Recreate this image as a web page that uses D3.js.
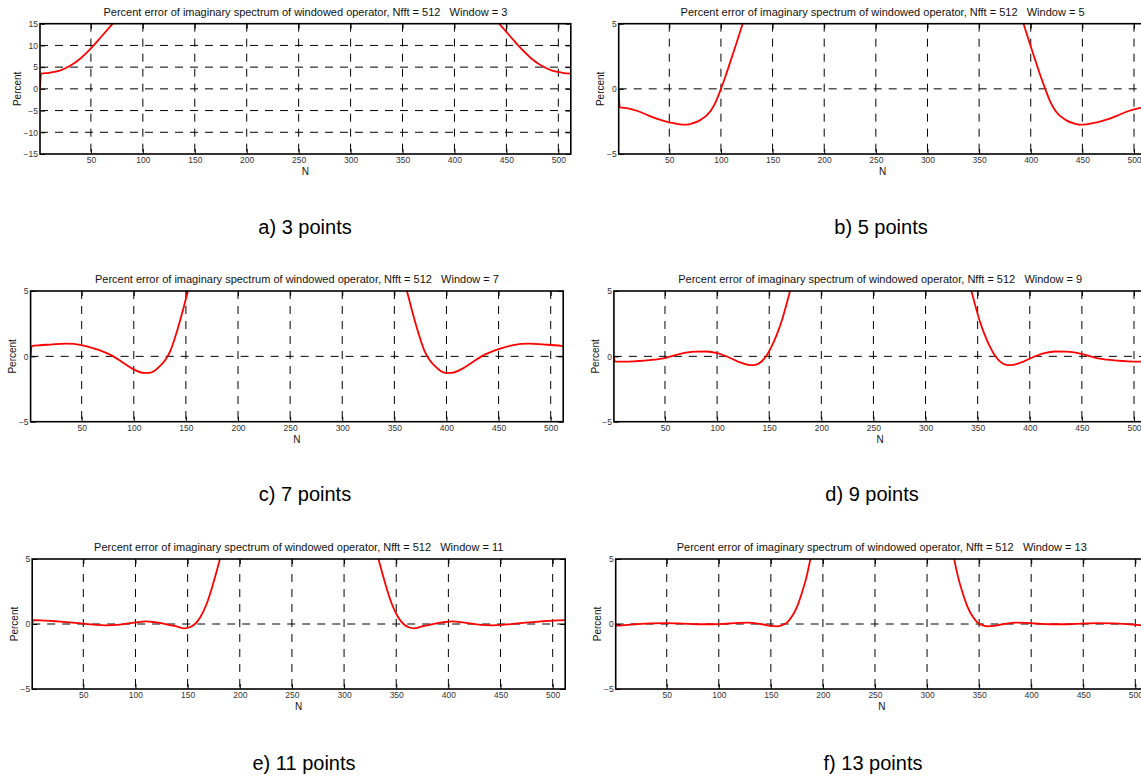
<!DOCTYPE html>
<html>
<head>
<meta charset="utf-8">
<script src="https://cdn.jsdelivr.net/npm/d3@7"></script>
<style>
  body { margin: 0; background: #fff; }
  svg { display: block; font-family: "Liberation Sans", Arial, sans-serif; }
  .tick text { fill: #333; font-size: 8.5px; }
</style>
</head>
<body>
<div class="svg-container"></div>
<script>
// window sizes and captions
const windows = [3, 5, 7, 9, 11, 13];
const captions = ['a) 3 points', 'b) 5 points', 'c) 7 points', 'd) 9 points', 'e) 11 points', 'f) 13 points'];
const xTicks = [50, 100, 150, 200, 250, 300, 350, 400, 450, 500];
const yTicksW3 = [-15, -10, -5, 0, 5, 10, 15];
const yTicksOther = [-5, 0, 5];

// curve values (left branch / right branch)
const nW3a = [1, 2, 10, 20, 30, 40, 50, 60, 71];
const errW3a = [0, 3.5, 3.7, 4.2, 5.3, 7.0, 9.3, 12.0, 15];
const nW3b = [443, 454, 464, 474, 484, 494, 504, 512];
const errW3b = [15, 12.0, 9.3, 7.0, 5.3, 4.2, 3.7, 3.5];

const nW5a = [1, 2, 10, 20, 30, 40, 50, 60, 65, 70, 80, 90, 95, 100, 105, 110, 115, 121];
const errW5a = [0, -1.42, -1.5, -1.72, -2.05, -2.35, -2.58, -2.72, -2.75, -2.7, -2.4, -1.7, -1.0, 0.0, 1.1, 2.3, 3.5, 5];
const nW5b = [393, 399, 404, 409, 414, 419, 424, 434, 444, 449, 454, 464, 474, 484, 494, 504, 512];
const errW5b = [5, 3.5, 2.3, 1.1, 0.0, -1.0, -1.7, -2.4, -2.7, -2.75, -2.72, -2.58, -2.35, -2.05, -1.72, -1.5, -1.42];

const nW7a = [1, 2, 10, 20, 35, 50, 60, 70, 80, 90, 100, 110, 115, 120, 125, 130, 135, 140, 145, 150, 152];
const errW7a = [0, 0.78, 0.85, 0.9, 0.97, 0.86, 0.65, 0.38, 0.02, -0.5, -1.0, -1.27, -1.27, -1.1, -0.75, -0.3, 0.4, 1.55, 2.9, 4.4, 5];
const nW7b = [362, 364, 369, 374, 379, 384, 389, 394, 399, 404, 414, 424, 434, 444, 454, 464, 479, 494, 504, 512];
const errW7b = [5, 4.4, 2.9, 1.55, 0.4, -0.3, -0.75, -1.1, -1.27, -1.27, -1.0, -0.5, 0.02, 0.38, 0.65, 0.86, 0.97, 0.9, 0.85, 0.78];

const nW9a = [1, 2, 10, 20, 30, 40, 50, 60, 70, 80, 90, 100, 110, 120, 130, 135, 140, 147, 152, 157, 162, 167, 170];
const errW9a = [0, -0.4, -0.4, -0.38, -0.33, -0.25, -0.14, 0.1, 0.28, 0.36, 0.37, 0.25, -0.03, -0.4, -0.65, -0.67, -0.55, 0, 0.7, 1.6, 2.7, 4.1, 5];
const nW9b = [344, 347, 352, 357, 362, 367, 374, 379, 384, 394, 404, 414, 424, 434, 444, 454, 464, 474, 484, 494, 504, 512];
const errW9b = [5, 4.1, 2.7, 1.6, 0.7, 0, -0.55, -0.67, -0.65, -0.4, -0.03, 0.25, 0.37, 0.36, 0.28, 0.1, -0.14, -0.25, -0.33, -0.38, -0.4, -0.4];

const nW11a = [1, 2, 10, 25, 40, 50, 60, 72, 85, 100, 110, 120, 130, 140, 147, 152, 157, 162, 168, 173, 177, 181];
const errW11a = [0, 0.3, 0.28, 0.2, 0.1, 0.03, -0.05, -0.1, -0.05, 0.12, 0.2, 0.12, -0.02, -0.2, -0.33, -0.25, 0, 0.5, 1.5, 2.7, 3.8, 5];
const nW11b = [333, 337, 341, 346, 352, 357, 362, 367, 374, 384, 394, 404, 414, 429, 442, 454, 464, 474, 489, 504, 512];
const errW11b = [5, 3.8, 2.7, 1.5, 0.5, 0, -0.25, -0.33, -0.2, -0.02, 0.12, 0.2, 0.12, -0.05, -0.1, -0.05, 0.03, 0.1, 0.2, 0.28, 0.3];

const nW13a = [1, 2, 10, 20, 35, 50, 65, 80, 95, 110, 128, 140, 150, 156, 162, 166, 170, 175, 180, 184, 188];
const errW13a = [0, -0.13, -0.08, -0.02, 0.05, 0.07, 0.03, -0.02, -0.02, 0.04, 0.1, 0.0, -0.15, -0.18, -0.05, 0.15, 0.55, 1.3, 2.45, 3.55, 5];
const nW13b = [326, 330, 334, 339, 344, 348, 352, 358, 364, 374, 386, 404, 419, 434, 449, 464, 479, 494, 504, 512];
const errW13b = [5, 3.55, 2.45, 1.3, 0.55, 0.15, -0.05, -0.18, -0.15, 0.0, 0.1, 0.04, -0.02, -0.02, 0.03, 0.07, 0.05, -0.02, -0.08, -0.13];

const branches = [
  [[nW3a, errW3a], [nW3b, errW3b]],
  [[nW5a, errW5a], [nW5b, errW5b]],
  [[nW7a, errW7a], [nW7b, errW7b]],
  [[nW9a, errW9a], [nW9b, errW9b]],
  [[nW11a, errW11a], [nW11b, errW11b]],
  [[nW13a, errW13a], [nW13b, errW13b]]
];

// panel boxes (pixel layout)
const boxLeft = [40, 618.7, 30.6, 613.9, 32.2, 615.7];
const boxRight = [570.8, 1146.4, 563.2, 1146.5, 565.2, 1147.8];
const boxTop = [23.7, 23.7, 291, 291, 559, 559];
const boxBottom = [154, 154, 421.7, 421.7, 689, 689];
const captionX = [305, 881, 305, 872, 304, 873];
const captionY = [234, 234, 501, 501, 770, 770];

const width = 1141;
const height = 776;

const svg = d3.select('.svg-container')
  .append('svg')
  .attr('width', width)
  .attr('height', height);

svg.append('rect').attr('width', width).attr('height', height).attr('fill', '#fff');

windows.forEach((w, i) => {
  const L = boxLeft[i], R = boxRight[i], T = boxTop[i], B = boxBottom[i];
  const yTicks = w === 3 ? yTicksW3 : yTicksOther;
  const yDom = w === 3 ? [-15, 15] : [-5, 5];

  const x = d3.scaleLinear().domain([1, 512]).range([L, R]);
  const y = d3.scaleLinear().domain(yDom).range([B, T]);

  const g = svg.append('g');

  g.append('clipPath').attr('id', 'clip' + i)
    .append('rect').attr('x', L).attr('y', T).attr('width', R - L).attr('height', B - T);

  // grid
  g.selectAll('.vgrid')
    .data(xTicks)
    .enter()
    .append('line')
    .attr('x1', d => x(d)).attr('x2', d => x(d))
    .attr('y1', T).attr('y2', B)
    .attr('stroke', '#000')
    .attr('stroke-width', 1)
    .attr('stroke-dasharray', '8,7');

  g.selectAll('.hgrid')
    .data(yTicks.slice(1, -1))
    .enter()
    .append('line')
    .attr('x1', L).attr('x2', R)
    .attr('y1', d => y(d)).attr('y2', d => y(d))
    .attr('stroke', '#000')
    .attr('stroke-width', 1)
    .attr('stroke-dasharray', '8,7');

  // axes with inward ticks
  const xAxis = g.append('g').attr('transform', `translate(0,${B})`)
    .call(d3.axisBottom(x).tickValues(xTicks).tickSizeInner(-5).tickSizeOuter(0).tickPadding(3));
  g.append('g').attr('transform', `translate(0,${T})`)
    .call(d3.axisTop(x).tickValues(xTicks).tickSizeInner(-5).tickSizeOuter(0).tickFormat(''));
  const yAxis = g.append('g').attr('transform', `translate(${L},0)`)
    .call(d3.axisLeft(y).tickValues(yTicks).tickSizeInner(-5).tickSizeOuter(0).tickPadding(2));
  g.append('g').attr('transform', `translate(${R},0)`)
    .call(d3.axisRight(y).tickValues(yTicks).tickSizeInner(-5).tickSizeOuter(0).tickFormat(''));

  g.selectAll('.domain').remove();
  g.selectAll('.tick line').attr('stroke', '#000');
  xAxis.selectAll('text').attr('font-family', 'Liberation Sans, Arial, sans-serif');
  yAxis.selectAll('text').attr('font-family', 'Liberation Sans, Arial, sans-serif');

  // curve
  const line = d3.line()
    .x(d => x(d[0]))
    .y(d => y(d[1]))
    .curve(d3.curveMonotoneX);

  branches[i].forEach(br => {
    const pts = br[0].map((n, k) => [n, br[1][k]]);
    g.append('path')
      .datum(pts)
      .attr('d', line)
      .attr('fill', 'none')
      .attr('stroke', '#ff0000')
      .attr('stroke-width', 1.8)
      .attr('clip-path', `url(#clip${i})`);
  });

  // box
  g.append('rect')
    .attr('x', L).attr('y', T)
    .attr('width', R - L).attr('height', B - T)
    .attr('fill', 'none')
    .attr('stroke', '#000')
    .attr('stroke-width', 1.6);

  // title
  g.append('text')
    .attr('x', (L + R) / 2)
    .attr('y', T - 7.6)
    .attr('text-anchor', 'middle')
    .attr('font-size', '11px')
    .attr('fill', '#111')
    .style('white-space', 'pre')
    .text('Percent error of imaginary spectrum of windowed operator, Nfft = 512   Window = ' + w);

  // x label
  g.append('text')
    .attr('x', (L + R) / 2)
    .attr('y', B + 21)
    .attr('text-anchor', 'middle')
    .attr('font-size', '10px')
    .attr('fill', '#111')
    .text('N');

  // y label
  const yl = w === 3 ? L - 19.5 : L - 14.5;
  g.append('text')
    .attr('transform', `translate(${yl},${(T + B) / 2}) rotate(-90)`)
    .attr('text-anchor', 'middle')
    .attr('font-size', '10px')
    .attr('fill', '#111')
    .text('Percent');

  // caption
  svg.append('text')
    .attr('x', captionX[i])
    .attr('y', captionY[i])
    .attr('text-anchor', 'middle')
    .attr('font-size', '20px')
    .attr('fill', '#000')
    .text(captions[i]);
});
</script>
</body>
</html>
